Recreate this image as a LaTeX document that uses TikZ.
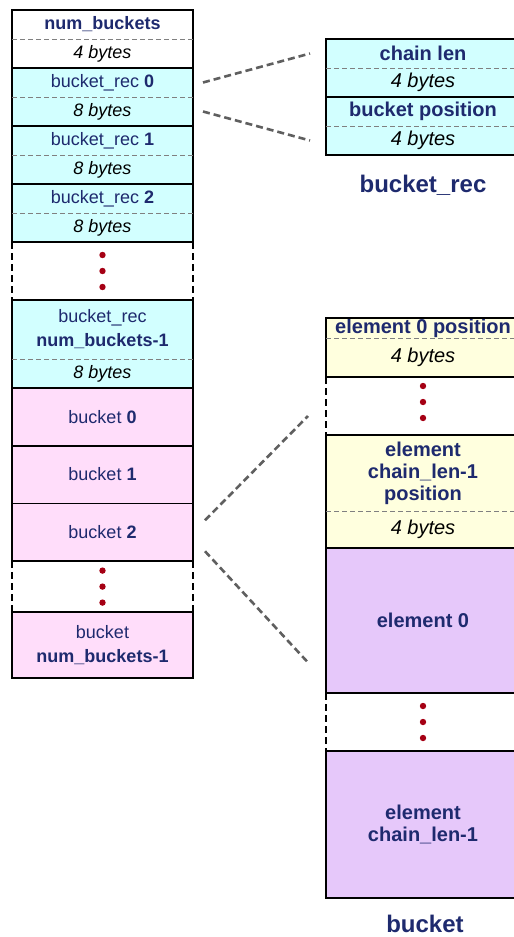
\documentclass[tikz,border=0pt]{standalone}
\usepackage{fontspec}
\setmainfont{Liberation Sans}
\usetikzlibrary{positioning}
\definecolor{recfill}{RGB}{210,255,255}
\definecolor{bktfill}{RGB}{255,221,250}
\definecolor{posfill}{RGB}{255,255,222}
\definecolor{elemfill}{RGB}{230,200,250}
\definecolor{labelblue}{RGB}{30,42,110}
\definecolor{dotred}{RGB}{165,0,20}
\definecolor{linegray}{RGB}{95,95,95}
\newcommand{\nbytes}[1]{\textcolor{black}{\mdseries\itshape #1 bytes}}
\tikzset{
  cell/.style={minimum width=181pt, minimum height=29pt, inner sep=0pt, outer sep=0pt,
    align=center, text=labelblue, font=\fontsize{18}{24}\selectfont},
  rcell/.style={cell, minimum width=194pt, font=\bfseries\fontsize{20}{22}\selectfont},
  box/.style={draw=black, line width=1.7pt},
  split/.style={draw=gray, line width=0.7pt, dash pattern=on 5pt off 3pt},
  gapside/.style={draw=black, line width=1.3pt, dash pattern=on 7pt off 4pt},
  zoomline/.style={draw=linegray, line width=2.6pt, dash pattern=on 7pt off 4pt},
  dot/.style={fill=dotred},
  caption/.style={inner sep=0pt, text=labelblue, font=\bfseries\fontsize{24}{28}\selectfont}
}
\begin{document}
\begin{tikzpicture}[x=1pt, y=-1pt]
\useasboundingbox (0,0) rectangle (514,937);
\clip (0,0) rectangle (514,937);
% file layout
\node (nb) [cell, fill=white, anchor=north] at (102.5,10) {\textbf{num\_buckets}};
\node (nbsz) [cell, fill=white, below=0pt of nb] {\nbytes{4}};
\node (r0) [cell, fill=recfill, below=0pt of nbsz] {bucket\_rec \textbf{0}};
\node (r0sz) [cell, fill=recfill, below=0pt of r0] {\nbytes{8}};
\node (r1) [cell, fill=recfill, below=0pt of r0sz] {bucket\_rec \textbf{1}};
\node (r1sz) [cell, fill=recfill, below=0pt of r1] {\nbytes{8}};
\node (r2) [cell, fill=recfill, below=0pt of r1sz] {bucket\_rec \textbf{2}};
\node (r2sz) [cell, fill=recfill, below=0pt of r2] {\nbytes{8}};
\node (g1) [cell, minimum height=58pt, below=0pt of r2sz] {};
\node (rn) [cell, fill=recfill, minimum height=59pt, below=0pt of g1] {bucket\_rec\\\textbf{num\_buckets-1}};
\node (rnsz) [cell, fill=recfill, below=0pt of rn] {\nbytes{8}};
\node (b0) [cell, fill=bktfill, minimum height=57.7pt, below=0pt of rnsz] {bucket \textbf{0}};
\node (b1) [cell, fill=bktfill, minimum height=57.7pt, below=0pt of b0] {bucket \textbf{1}};
\node (b2) [cell, fill=bktfill, minimum height=57.7pt, below=0pt of b1] {bucket \textbf{2}};
\node (g2) [cell, minimum height=51pt, below=0pt of b2] {};
\node (bn) [cell, fill=bktfill, minimum height=66pt, below=0pt of g2] {bucket\\\textbf{num\_buckets-1}};
% bucket_rec
\node (cl) [rcell, fill=recfill, anchor=north] at (423,39) {chain len};
\node (clsz) [rcell, fill=recfill, below=0pt of cl] {\nbytes{4}};
\node (bp) [rcell, fill=recfill, below=0pt of clsz] {bucket position};
\node (bpsz) [rcell, fill=recfill, below=0pt of bp] {\nbytes{4}};
\node (reccap) [caption] at (423,185) {bucket\_rec};
% bucket
\node (e0p) [rcell, fill=posfill, minimum height=20pt, anchor=north] at (423,318) {element 0 position};
\node (e0psz) [rcell, fill=posfill, minimum height=39pt, below=0pt of e0p] {\nbytes{4}};
\node (g3) [rcell, minimum height=58pt, below=0pt of e0psz] {};
\node (enp) [rcell, fill=posfill, minimum height=76pt, below=0pt of g3] {element\\chain\_len-1\\position};
\node (enpsz) [rcell, fill=posfill, minimum height=37pt, below=0pt of enp] {\nbytes{4}};
\node (e0) [rcell, fill=elemfill, minimum height=145pt, below=0pt of enpsz] {element 0};
\node (g4) [rcell, minimum height=58pt, below=0pt of e0] {};
\node (en) [rcell, fill=elemfill, minimum height=147pt, below=0pt of g4] {element\\chain\_len-1};
\node (bktcap) [caption] at (425,924) {bucket};
% outlines
\draw[box] (nb.north west) rectangle (nbsz.south east);
\draw[split] (nb.south west) -- (nb.south east);
\draw[box] (r0.north west) rectangle (r0sz.south east);
\draw[split] (r0.south west) -- (r0.south east);
\draw[box] (r1.north west) rectangle (r1sz.south east);
\draw[split] (r1.south west) -- (r1.south east);
\draw[box] (r2.north west) rectangle (r2sz.south east);
\draw[split] (r2.south west) -- (r2.south east);
\draw[box] (rn.north west) rectangle (rnsz.south east);
\draw[split] (rn.south west) -- (rn.south east);
\draw[box] (b0.north west) rectangle (b0.south east);
\draw[box] (b1.north west) rectangle (b1.south east);
\draw[box] (b2.north west) rectangle (b2.south east);
\draw[box] (bn.north west) rectangle (bn.south east);
\draw[box] (cl.north west) rectangle (clsz.south east);
\draw[split] (cl.south west) -- (cl.south east);
\draw[box] (bp.north west) rectangle (bpsz.south east);
\draw[split] (bp.south west) -- (bp.south east);
\draw[box] (e0p.north west) rectangle (e0psz.south east);
\draw[split] (e0p.south west) -- (e0p.south east);
\draw[box] (enp.north west) rectangle (enpsz.south east);
\draw[split] (enp.south west) -- (enp.south east);
\draw[box] (e0.north west) rectangle (e0.south east);
\draw[box] (en.north west) rectangle (en.south east);
% gaps
\draw[gapside] (g1.north west) -- (g1.south west);
\draw[gapside] (g1.north east) -- (g1.south east);
\draw[gapside] (g2.north west) -- (g2.south west);
\draw[gapside] (g2.north east) -- (g2.south east);
\draw[gapside] (g3.north west) -- (g3.south west);
\draw[gapside] (g3.north east) -- (g3.south east);
\draw[gapside] (g4.north west) -- (g4.south west);
\draw[gapside] (g4.north east) -- (g4.south east);
\fill[dot] ([yshift=16pt]g1.center) circle (3.2pt) (g1.center) circle (3.2pt) ([yshift=-16pt]g1.center) circle (3.2pt);
\fill[dot] ([yshift=16pt]g2.center) circle (3.2pt) (g2.center) circle (3.2pt) ([yshift=-16pt]g2.center) circle (3.2pt);
\fill[dot] ([yshift=20pt]g3.center) circle (3.2pt) ([yshift=4pt]g3.center) circle (3.2pt) ([yshift=-12pt]g3.center) circle (3.2pt);
\fill[dot] ([yshift=16pt]g4.center) circle (3.2pt) (g4.center) circle (3.2pt) ([yshift=-16pt]g4.center) circle (3.2pt);
% zoom lines
\draw[zoomline] ([xshift=10pt]r0.east) -- ([xshift=-16pt]cl.west);
\draw[zoomline] ([xshift=10pt]r0sz.east) -- ([xshift=-16pt]bpsz.west);
\draw[zoomline] ([xshift=12pt,yshift=12pt]b2.east) -- ([xshift=-18pt,yshift=-10pt]g3.west);
\draw[zoomline] ([xshift=12pt,yshift=-19pt]b2.east) -- ([xshift=-18pt,yshift=-42pt]e0.west);
\end{tikzpicture}
\end{document}
